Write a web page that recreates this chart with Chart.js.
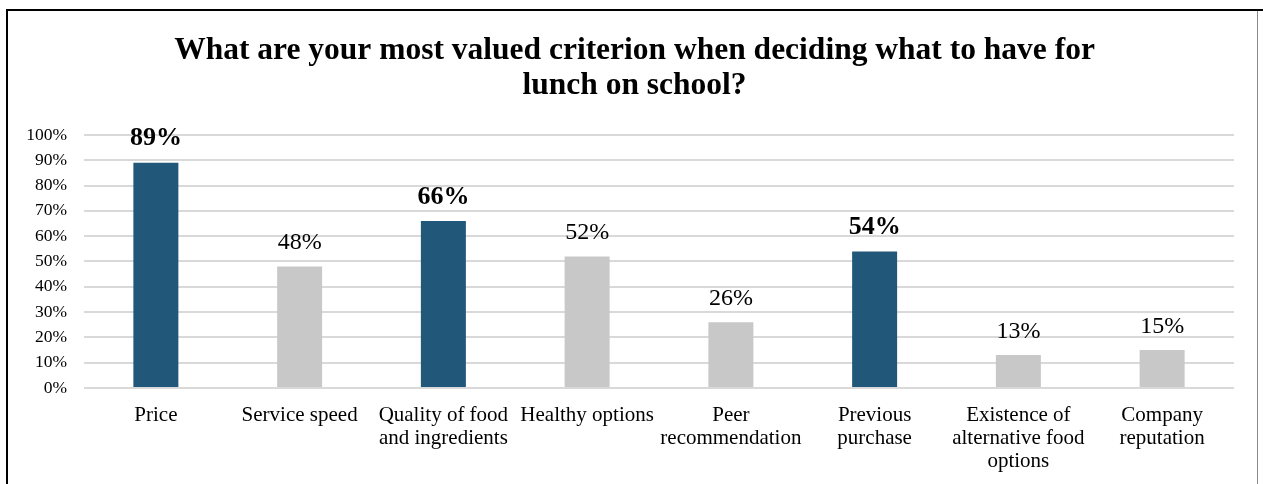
<!DOCTYPE html>
<html>
<head>
<meta charset="utf-8">
<title>Lunch criteria</title>
<script src="https://cdn.jsdelivr.net/npm/chart.js@4.4.1/dist/chart.umd.min.js"></script>
<style>
  html, body { margin: 0; padding: 0; background: #fff; overflow: hidden; }
  #wrap { position: relative; width: 1263px; height: 484px; }
  #frame {
    position: absolute; left: 6px; top: 9px; right: 0; bottom: -10px;
    border-left: 2px solid #000; border-top: 2px solid #000;
  }
  #edge { position: absolute; left: 1257px; top: 11px; width: 1px; bottom: 0; background: #8a8a8a; }
  canvas { position: absolute; left: 0; top: 0; }
</style>
</head>
<body>
<div id="wrap">
  <div id="frame"></div>
  <div id="edge"></div>
  <canvas id="chart" width="1263" height="484"></canvas>
</div>
<script>
const criteria = [
  'Price',
  'Service speed',
  ['Quality of food', 'and ingredients'],
  'Healthy options',
  ['Peer', 'recommendation'],
  ['Previous', 'purchase'],
  ['Existence of', 'alternative food', 'options'],
  ['Company', 'reputation']
];
const shares = [89, 48, 66, 52, 26, 54, 13, 15];
const topPicks = [true, false, true, false, false, true, false, false];
const yTicks = [0, 10, 20, 30, 40, 50, 60, 70, 80, 90, 100];

const serif = '"Liberation Serif", "Times New Roman", serif';
const BLUE = '#215779';
const GREY = '#C8C8C8';

// percentage printed above each bar, bold for the highlighted ones
const valueLabels = {
  id: 'valueLabels',
  afterDatasetsDraw(chart) {
    const ctx = chart.ctx;
    const meta = chart.getDatasetMeta(0);
    ctx.save();
    ctx.textAlign = 'center';
    ctx.textBaseline = 'alphabetic';
    ctx.fillStyle = '#000';
    meta.data.forEach((bar, i) => {
      ctx.font = topPicks[i] ? 'bold 26px ' + serif : '24px ' + serif;
      ctx.fillText(shares[i] + '%', bar.x, bar.y - 17.5);
    });
    ctx.restore();
  }
};

// centre the title a little right of the canvas middle
const titleSpan = {
  id: 'titleSpan',
  afterLayout(chart) {
    const t = chart.titleBlock;
    if (t) { t.left = 35; t.right = chart.chartArea.right; }
  }
};

new Chart(document.getElementById('chart'), {
  type: 'bar',
  data: {
    labels: criteria,
    datasets: [{
      data: shares,
      backgroundColor: topPicks.map(p => p ? BLUE : GREY),
      borderWidth: 0,
      barPercentage: 0.313,
      categoryPercentage: 1
    }]
  },
  options: {
    responsive: false,
    animation: false,
    events: [],
    layout: { padding: { left: 0, right: 29, top: 0, bottom: 0 } },
    plugins: {
      legend: { display: false },
      tooltip: { enabled: false },
      title: {
        display: true,
        text: ['What are your most valued criterion when deciding what to have for', 'lunch on school?'],
        color: '#000',
        font: { family: serif, size: 31.5, weight: 'bold', lineHeight: 1.111 },
        padding: { top: 33, bottom: 32 }
      }
    },
    scales: {
      x: {
        afterFit(scale) { scale.height = 96; },
        grid: { display: false },
        border: { display: false },
        ticks: {
          color: '#000',
          autoSkip: false,
          maxRotation: 0,
          minRotation: 0,
          padding: 7.5,
          font: { family: serif, size: 21, lineHeight: 1.095 }
        }
      },
      y: {
        min: 0,
        max: 100,
        afterFit(scale) { scale.width = 84; },
        afterBuildTicks(scale) { scale.ticks = yTicks.map(v => ({ value: v })); },
        border: { display: false },
        grid: { color: '#D9D9D9', lineWidth: 2, drawTicks: false },
        ticks: {
          color: '#000',
          autoSkip: false,
          padding: 17,
          font: { family: serif, size: 17.5 },
          callback: v => v + '%'
        }
      }
    }
  },
  plugins: [valueLabels, titleSpan]
});
</script>
</body>
</html>
